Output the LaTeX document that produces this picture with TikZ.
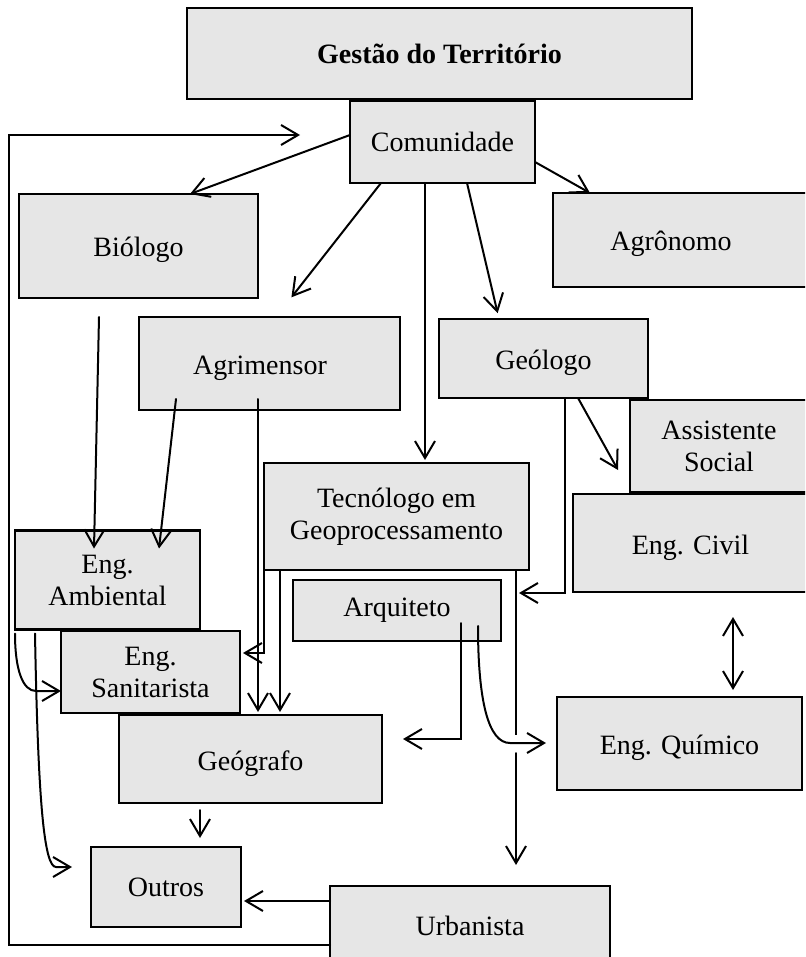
\documentclass[tikz,border=0pt]{standalone}
\usepackage{fontspec}
\setmainfont{Liberation Serif}
\usetikzlibrary{arrows.meta,calc}
\definecolor{boxfill}{RGB}{230,230,230}
\begin{document}
\begin{tikzpicture}[x=1pt,y=-1pt,
  box/.style={draw, line width=2.3pt, fill=boxfill, inner sep=0pt, outer sep=0pt,
              font=\fontsize{28}{32}\selectfont},
  lowtext/.style={text height=22pt, text depth=0pt},
  conn/.style={line width=2pt, line cap=round, -{Straight Barb[length=17pt,width=20pt]}},
  dconn/.style={line width=2pt, line cap=round, {Straight Barb[length=17pt,width=20pt]}-{Straight Barb[length=17pt,width=20pt]}},
  linkline/.style={line width=2pt}]
\useasboundingbox (0,0) rectangle (805,957);
\clip (0,0) rectangle (805,957);

% boxes
\node[box, minimum width=505pt, minimum height=91pt, font=\fontsize{28}{32}\selectfont\bfseries] (gest) at (439.5,53.5) {Gestão do Território};
\node[box, minimum width=185pt, minimum height=82pt] (comu) at (442.5,142) {Comunidade};
\node[box, lowtext, minimum width=239pt, minimum height=104pt] (bio) at (138.5,246) {Biólogo};
\node[box, lowtext, minimum width=255pt, minimum height=94pt] (agro) at (680.5,240) {\hspace*{-19pt}Agrônomo};
\node[box, lowtext, minimum width=261pt, minimum height=93pt] (agrim) at (269.5,363.5) {\hspace*{-19pt}Agrimensor};
\node[box, lowtext, minimum width=209pt, minimum height=79pt] (geo) at (543.5,358.5) {Geólogo};
\node[box, minimum width=178pt, minimum height=92pt, align=center] (asst) at (719,446) {Assistente\\Social};
\node[box, lowtext, minimum width=235pt, minimum height=98pt] (civil) at (690.5,543) {Eng. Civil};
\node[box, minimum width=265pt, minimum height=107pt, align=center] (tec) at (396.5,516.5) {Tecnólogo em\\Geoprocessamento};
\node[box, minimum width=185pt, minimum height=99pt, align=center] (amb) at (107.5,580) {Eng.\\Ambiental};
\node[box, minimum width=208pt, minimum height=61pt] (arq) at (397,610.5) {Arquiteto};
\node[box, minimum width=179pt, minimum height=82pt, align=center] (san) at (150.5,672) {Eng.\\Sanitarista};
\node[box, lowtext, minimum width=263pt, minimum height=88pt] (geog) at (250.5,759) {Geógrafo};
\node[box, lowtext, minimum width=245pt, minimum height=93pt] (quim) at (679.5,743.5) {Eng. Químico};
\node[box, minimum width=150pt, minimum height=80pt] (outros) at (166,887) {Outros};
\node[box, minimum width=280pt, minimum height=79pt] (urb) at (470,925.5) {Urbanista};

% free ends
\coordinate (fbA) at (9,945);
\coordinate (fbB) at (9,135);
\coordinate (hopA) at (516,735);
\coordinate (hopB) at (516,753);
\coordinate (geoTip) at (519,593);
\coordinate (asstTip) at (618,470);

% Comunidade
\draw[conn] (comu.west |- 0,135) -- (bio.north -| 190,0);
\draw[conn, shorten >=25pt] (comu.south -| 381,0) -- (agrim.north -| 276,0);
\draw[conn, shorten >=3pt] (comu.south -| 425,0) -- (tec.north -| 425,0);
\draw[conn, shorten >=6pt] (comu.south -| 467,0) -- (geo.north -| 499,0);
\draw[conn] (comu.east |- 0,162) -- (agro.north -| 590,0);

% feedback loop
\draw[conn, shorten >=50pt] (urb.west |- 0,945) -- (fbA) -- (fbB) -- (comu.west |- 0,135);

% Biólogo, Agrimensor
\draw[conn] ($(bio.south -| 99,0)+(0,19)$) -- ($(amb.north -| 94,0)+(0,18)$);
\draw[conn] ($(agrim.south -| 176,0)+(0,-11)$) -- ($(amb.north -| 159,0)+(0,18)$);
\draw[conn, shorten >=3pt] ($(agrim.south -| 258,0)+(0,-11)$) -- (geog.north -| 258,0);

% Tecnólogo
\draw[conn, shorten >=3pt] (tec.south west) |- (san.east |- 0,653);
\draw[conn, shorten >=3pt] (tec.south -| 280,0) -- (geog.north -| 280,0);
\draw[linkline] (tec.south -| 516,0) -- (hopA);
\draw[conn, shorten >=21pt] (hopB) -- (urb.north -| 516,0);

% Geólogo
\draw[conn] (geo.south -| 565,0) |- (geoTip);
\draw[conn] (geo.south -| 578,0) -- (asstTip);

% Civil - Químico
\draw[dconn, shorten <=25pt, shorten >=7pt] (civil.south -| 733,0) -- (quim.north -| 733,0);

% Arquiteto
\draw[conn, shorten >=21pt] ($(arq.south -| 461,0)+(0,-18)$) |- (geog.east |- 0,739);
\draw[conn, shorten >=11pt] ($(arq.south -| 478,0)+(0,-15)$) .. controls +(0,74) and +(-22,0) .. (510,743) -- (quim.west |- 0,743);

% Ambiental
\draw[conn] ($(amb.south west)+(0,4)$) .. controls +(0,37) and +(-13,0) .. (36,691) -- (san.west |- 0,691);
\draw[conn, shorten >=19pt] ($(amb.south west)+(20,4)$) .. controls +(3,167) and +(-12,0) .. (56,867) -- (outros.west |- 0,867);

% Geógrafo, Urbanista -> Outros
\draw[conn, shorten <=7pt, shorten >=9pt] (geog.south -| 200,0) -- (outros.north -| 200,0);
\draw[conn, shorten >=3pt] (urb.west |- 0,901) -- (outros.east |- 0,901);
\end{tikzpicture}
\end{document}
